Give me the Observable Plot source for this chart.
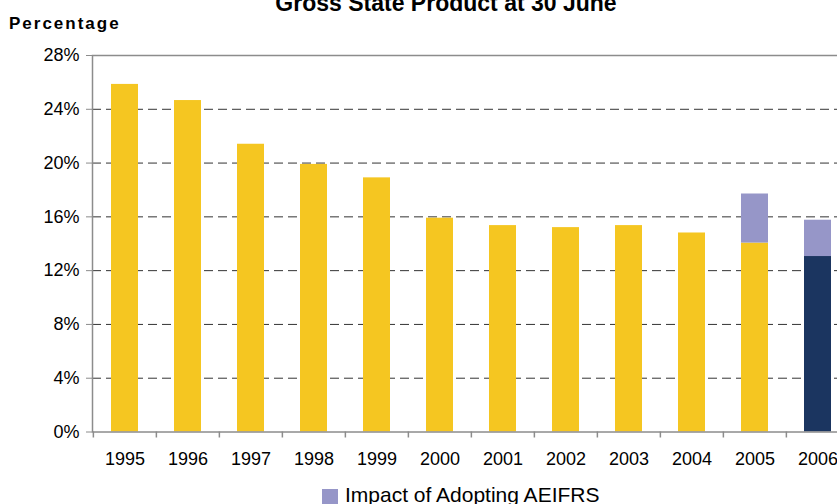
<!DOCTYPE html>
<html><head><meta charset="utf-8">
<script src="https://cdn.jsdelivr.net/npm/d3@7"></script>
<script src="https://cdn.jsdelivr.net/npm/@observablehq/plot@0.6"></script>
<style>
html,body{margin:0;padding:0;background:#fff;overflow:hidden;}
#wrap{position:relative;width:837px;height:504px;overflow:hidden;font-family:"Liberation Sans",Arial,sans-serif;color:#000;}
.abs{position:absolute;white-space:nowrap;}
</style></head><body>
<div id="wrap">
  <div id="chart" class="abs" style="left:0;top:0"></div>
  <div class="abs" style="left:0;width:892px;text-align:center;top:-7.8px;font-size:23px;line-height:23px;font-weight:bold">Gross State Product at 30 June</div>
  <div class="abs" style="left:9px;top:14.6px;font-size:17px;line-height:17px;font-weight:bold;letter-spacing:2px">Percentage</div>
  <div id="legend"></div>
</div>
<script>
const years = ["1995","1996","1997","1998","1999","2000","2001","2002","2003","2004","2005","2006"];
const reportedPre = [25.85, 24.65, 21.4, 19.9, 18.9, 15.9, 15.35, 15.2, 15.35, 14.8, 14.05, null];
const reportedPost = [null, null, null, null, null, null, null, null, null, null, null, 13.05];
const impact = [null, null, null, null, null, null, null, null, null, null, 3.65, 2.7];
const seriesNames = ["Pre-AEIFRS", "AEIFRS", "Impact of Adopting AEIFRS"];
const seriesColors = ["#F5C621", "#1B3560", "#9696C8"];
const yTicks = [0, 4, 8, 12, 16, 20, 24, 28];
const gridTicks = [4, 8, 12, 16, 20, 24];
const legendItems = ["Impact of Adopting AEIFRS"];

const seriesValues = [reportedPre, reportedPost, impact];
const rows = [];
seriesValues.forEach((vals, s) => {
  vals.forEach((v, i) => { if (v != null) rows.push({year: years[i], series: seriesNames[s], value: v}); });
});

const W = 851, ML = 92, MR = 0;
const halfStep = (W - ML - MR) / years.length / 2;

const chart = Plot.plot({
  width: W, height: 480,
  marginLeft: ML, marginRight: MR, marginTop: 55, marginBottom: 48.5,
  style: {fontFamily: "'Liberation Sans', Arial, sans-serif", maxWidth: "none", background: "transparent", overflow: "visible"},
  x: {domain: years, paddingInner: 0.57, paddingOuter: 0.285},
  y: {domain: [0, 28]},
  color: {domain: seriesNames, range: seriesColors},
  marks: [
    Plot.ruleY(gridTicks, {stroke: "#333", strokeDasharray: "9,5", strokeWidth: 1}),
    Plot.barY(rows, {x: "year", y: "value", fill: "series"}),
    Plot.frame({stroke: "#8c8c8c", strokeWidth: 1.5}),
    Plot.axisY({ticks: yTicks, tickFormat: d => d + "%", tickSize: 6, tickPadding: 7, fontSize: 18, stroke: "#8c8c8c", fill: "#000", label: null}),
    Plot.axisX({tickSize: 0, tickPadding: 20, fontSize: 18, fill: "#000", label: null}),
    Plot.axisX({tickSize: 6, fill: "none", stroke: "#8c8c8c", strokeWidth: 1.5, dx: -halfStep, label: null})
  ]
});
document.getElementById("chart").appendChild(chart);

const legend = document.getElementById("legend");
legendItems.forEach(name => {
  const c = seriesColors[seriesNames.indexOf(name)];
  const sq = document.createElement("div");
  sq.className = "abs";
  sq.style.cssText = `left:322px;top:489px;width:16px;height:16px;background:${c}`;
  const tx = document.createElement("div");
  tx.className = "abs";
  tx.style.cssText = "left:345px;top:484px;font-size:21px;line-height:21px;";
  tx.textContent = name;
  legend.appendChild(sq);
  legend.appendChild(tx);
});
</script>
</body></html>
